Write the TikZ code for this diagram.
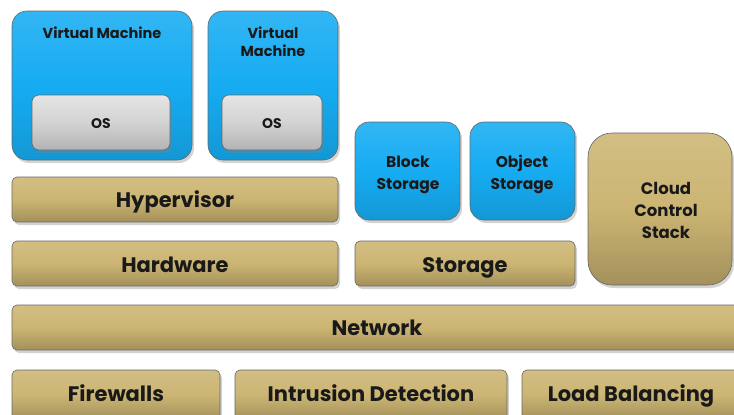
\documentclass[tikz,border=0pt]{standalone}
\usepackage{fontspec}
\setmainfont{Poppins}
\usetikzlibrary{shadows}
\definecolor{vmblue}{RGB}{22,172,242}
\definecolor{gold}{RGB}{204,181,115}
\definecolor{osgray}{RGB}{212,211,212}
\tikzset{
  base/.style={draw=black!60, line width=0.6pt, drop shadow={shadow xshift=2pt, shadow yshift=-3pt, opacity=0.35}},
  bluebox/.style={base, top color=vmblue!88!white, bottom color=vmblue!88!black, middle color=vmblue},
  goldbox/.style={base, top color=gold!88!white, bottom color=gold!80!black, middle color=gold},
  osbox/.style={base, top color=osgray!60!white, bottom color=osgray!85!black, middle color=osgray},
  lbl/.style={font=\bfseries\fontsize{#1}{#1}\selectfont, text=black!90, align=center, inner sep=0pt},
  barlbl/.style={lbl=21, anchor=base},
}
\newcommand{\bx}[6]{% name, style, x1, y1, x2, y2
  \path[#2] (#3pt,-#4pt) rectangle (#5pt,-#6pt);
  \coordinate (#1) at ({(#3+#5)/2*1pt},{-(#4+#6)/2*1pt});}
\begin{document}
\begin{tikzpicture}
\useasboundingbox (0,0) rectangle (734pt,-415pt);
% Virtual machines
\bx{vm1}{bluebox, rounded corners=15pt}{12}{11}{192}{160}
\node[lbl=14.5, anchor=base] (vm1t) at (102pt,-38pt) {Virtual Machine};
\bx{os1}{osbox, rounded corners=7pt}{32}{95}{170}{150}
\node[lbl=14, anchor=base] (os1t) at (101pt,-128pt) {OS};
\bx{vm2}{bluebox, rounded corners=15pt}{208}{11}{338}{160}
\node[lbl=14.5, anchor=base] (vm2a) at (273pt,-38pt) {Virtual};
\node[lbl=14.5, anchor=base] (vm2b) at (273pt,-56pt) {Machine};
\bx{os2}{osbox, rounded corners=7pt}{222}{95}{322}{150}
\node[lbl=14, anchor=base] (os2t) at (272pt,-128pt) {OS};
% Hypervisor, hardware
\bx{hyp}{goldbox, rounded corners=5pt}{12}{177}{338}{222}
\node[barlbl] (hypt) at (175pt,-207pt) {Hypervisor};
\bx{hw}{goldbox, rounded corners=5pt}{12}{241}{338}{286}
\node[barlbl] (hwt) at (175pt,-272pt) {Hardware};
% Storage
\bx{bs}{bluebox, rounded corners=14pt}{355}{122}{460}{220}
\node[lbl=15.5, anchor=base] (bsa) at (408pt,-167pt) {Block};
\node[lbl=15.5, anchor=base] (bsb) at (408pt,-189pt) {Storage};
\bx{obs}{bluebox, rounded corners=14pt}{470}{122}{575}{220}
\node[lbl=15.5, anchor=base] (osa) at (522pt,-167pt) {Object};
\node[lbl=15.5, anchor=base] (osb) at (522pt,-189pt) {Storage};
\bx{st}{goldbox, rounded corners=5pt}{355}{241}{575}{286}
\node[barlbl] (stt) at (465pt,-272pt) {Storage};
% Cloud control stack
\bx{ccs}{goldbox, rounded corners=24pt}{588}{133}{732}{285}
\node[lbl=16.5, anchor=base] (cca) at (666pt,-194pt) {Cloud};
\node[lbl=16.5, anchor=base] (ccb) at (666pt,-216pt) {Control};
\node[lbl=16.5, anchor=base] (ccc) at (666pt,-238pt) {Stack};
% Network
\bx{net}{goldbox, rounded corners=5pt}{12}{305}{740}{350}
\node[barlbl] (nett) at (377pt,-335pt) {Network};
% Bottom row
\bx{fw}{goldbox, rounded corners=5pt}{12}{370}{220}{420}
\node[barlbl] (fwt) at (116pt,-401pt) {Firewalls};
\bx{ids}{goldbox, rounded corners=5pt}{235}{370}{507}{420}
\node[barlbl] (idst) at (371pt,-401pt) {Intrusion Detection};
\bx{lb}{goldbox, rounded corners=5pt}{522}{370}{740}{420}
\node[barlbl] (lbt) at (631pt,-401pt) {Load Balancing};
\end{tikzpicture}
\end{document}
